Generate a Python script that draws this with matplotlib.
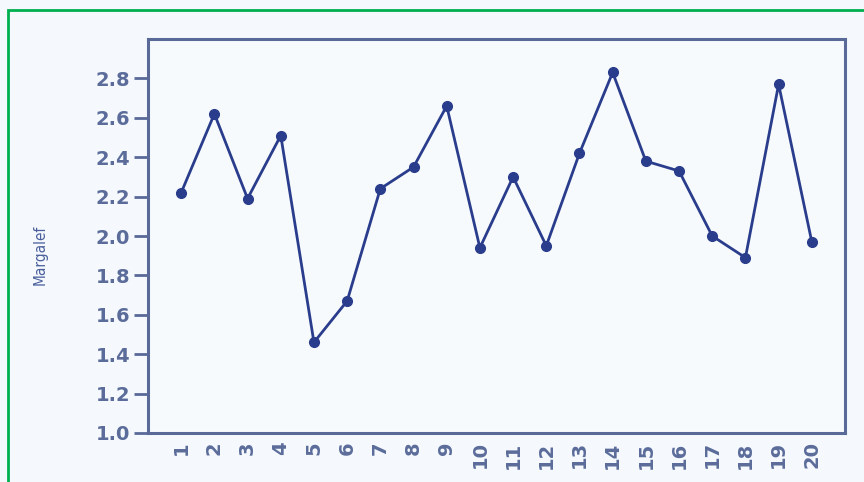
import matplotlib
matplotlib.use("Agg")
import matplotlib.pyplot as plt
from matplotlib.patches import Rectangle

# Margalef index per station
stations = list(range(1, 21))
margalef = [2.22, 2.62, 2.19, 2.51, 1.46, 1.67, 2.24, 2.35, 2.66, 1.94,
            2.30, 1.95, 2.42, 2.83, 2.38, 2.33, 2.00, 1.89, 2.77, 1.97]
yticks = [1.0, 1.2, 1.4, 1.6, 1.8, 2.0, 2.2, 2.4, 2.6, 2.8]

line_col = "#2a3d8c"
axis_col = "#5a6a98"
text_col = "#5b6c9a"

fig = plt.figure(figsize=(8.64, 4.82), dpi=100, facecolor="#f5f9fd")
ax = fig.add_axes([148 / 864, 1 - 433 / 482, (845 - 148) / 864, (433 - 39) / 482])
ax.set_facecolor("#f7fafd")

ax.plot(stations, margalef, color=line_col, linewidth=2, marker="o",
        markersize=7, markerfacecolor=line_col, markeredgecolor=line_col)

ax.set_xlim(0, 21)
ax.set_ylim(1.0, 3.0)
ax.set_yticks(yticks)
ax.set_yticklabels([f"{v:.1f}" for v in yticks])
ax.set_xticks(stations)
ax.set_xticklabels([str(s) for s in stations], rotation=90)

for s in ax.spines.values():
    s.set_color(axis_col)
    s.set_linewidth(2.2)
ax.tick_params(axis="y", colors=axis_col, labelcolor=text_col, labelsize=14,
               length=10, width=2, direction="out", pad=3)
ax.tick_params(axis="x", colors=axis_col, labelcolor=text_col, labelsize=14,
               length=0, pad=6)
for lbl in ax.get_yticklabels() + ax.get_xticklabels():
    lbl.set_fontweight("bold")

fig.text(40 / 864, 1 - 255 / 482, "Margalef", rotation=90, ha="center",
         va="center", color="#4a5f9c", fontsize=11, fontstretch="condensed")

# green frame around the figure (cut off on the right and bottom)
fig.patches.append(Rectangle((8 / 864, -0.05), 1.1, 1 - 10 / 482 + 0.05,
                             transform=fig.transFigure, fill=False,
                             edgecolor="#00b050", linewidth=2))

fig.savefig("out.png", dpi=100, facecolor=fig.get_facecolor())
